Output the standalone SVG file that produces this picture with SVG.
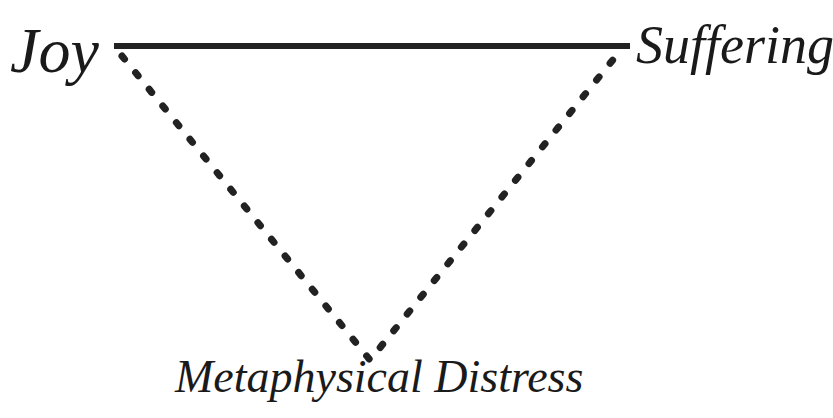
<svg xmlns="http://www.w3.org/2000/svg" width="833" height="418" viewBox="0 0 833 418">
<style>
.lbl{font-family:"Liberation Serif","DejaVu Serif",serif;font-style:italic;fill:#1a1a1a}
.solid{stroke:#222;stroke-width:6;fill:none}
.dash{stroke:#222;stroke-width:7;fill:none;stroke-dasharray:4 17.5;stroke-linecap:round}
</style>
<rect width="833" height="418" fill="#fff"/>
<g id="connectors">
<line class="solid" x1="114" y1="46" x2="630" y2="46"/>
<polyline class="dash" points="122,56 370,360 616,56"/>
</g>
<g id="joy"><text class="lbl" x="10" y="72" font-size="64">Joy</text></g>
<g id="suffering"><text class="lbl" x="636" y="63" font-size="54">Suffering</text></g>
<g id="metaphysical"><text class="lbl" x="175" y="392" font-size="46">Metaphysical Distress</text></g>
</svg>
